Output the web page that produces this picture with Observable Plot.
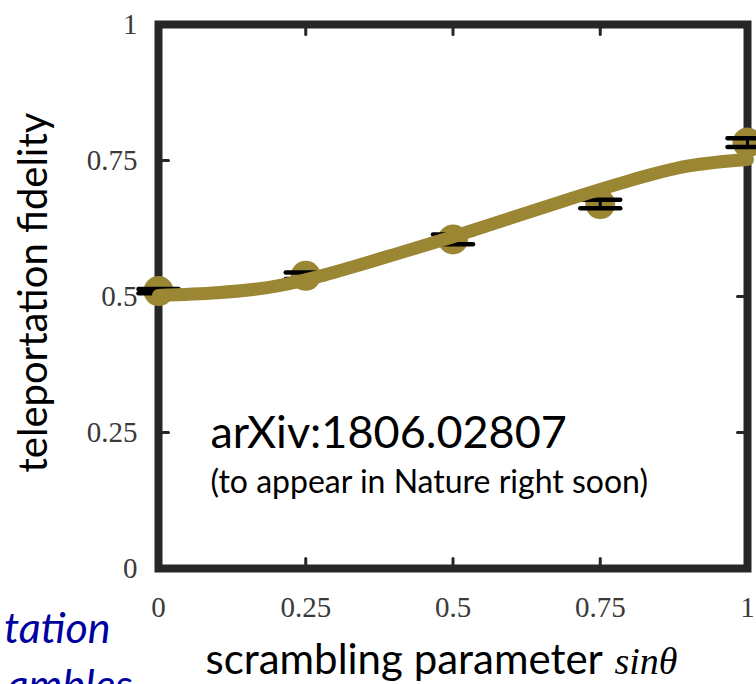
<!DOCTYPE html>
<html>
<head>
<meta charset="utf-8">
<script src="https://cdn.jsdelivr.net/npm/d3@7"></script>
<script src="https://cdn.jsdelivr.net/npm/@observablehq/plot@0.6"></script>
<style>
  html, body { margin: 0; padding: 0; background: #fff; overflow: hidden; }
  #chart { width: 756px; height: 684px; }
</style>
</head>
<body>
<div id="chart"></div>
<script>
// ---- data ----
const xTicks = [0, 0.25, 0.5, 0.75, 1];
const yTicks = [0, 0.25, 0.5, 0.75, 1];
const innerTicks = [0.25, 0.5, 0.75];

const pointX = [0, 0.25, 0.5, 0.75, 1];
const pointY = [0.51, 0.538, 0.605, 0.67, 0.783];
const pointErr = [0.004, 0.006, 0.009, 0.008, 0.008];

const curveX = [0, 0.1, 0.2, 0.3, 0.4, 0.5, 0.6, 0.7, 0.8, 0.9, 1];
const curveY = [0.502, 0.507, 0.519, 0.545, 0.577, 0.61, 0.645, 0.68, 0.713, 0.74, 0.752];

const yLabel = "teleportation fidelity";
const xLabelText = "scrambling parameter";
const xLabelMath = "sinθ";
const noteLines = ["arXiv:1806.02807", "(to appear in Nature right soon)"];
const sideLines = ["tation", "ambles"];

// ---- build tables ----
const points = pointX.map((x, i) => ({x, y: pointY[i], e: pointErr[i]}));
const curve = curveX.map((x, i) => ({x, y: curveY[i]}));

const gold = "#9b8733";
const frameColor = "#262626";
const sans = "Lato, 'Open Sans', sans-serif";
const serif = "'Liberation Serif', 'DejaVu Serif', serif";

// a straight segment of length l along the vector direction
const segment = {draw(context, l) { context.moveTo(0, 0); context.lineTo(0, -l); }};

const chart = Plot.plot({
  width: 756,
  height: 684,
  marginLeft: 158,
  marginRight: 9,
  marginTop: 24,
  marginBottom: 116,
  style: {background: "#fff"},
  x: {domain: [0, 1], axis: null},
  y: {domain: [0, 1], axis: null},
  marks: [
    Plot.frame({stroke: frameColor, strokeWidth: 8}),
    // inward tick marks on all sides
    Plot.vector(innerTicks, {y: d => d, frameAnchor: "left", length: 10, rotate: 90, anchor: "start", shape: segment, stroke: frameColor, strokeWidth: 3}),
    Plot.vector(innerTicks, {y: d => d, frameAnchor: "right", length: 10, rotate: -90, anchor: "start", shape: segment, stroke: frameColor, strokeWidth: 3}),
    Plot.vector(innerTicks, {x: d => d, frameAnchor: "bottom", length: 10, rotate: 0, anchor: "start", shape: segment, stroke: frameColor, strokeWidth: 3}),
    Plot.vector(innerTicks, {x: d => d, frameAnchor: "top", length: 10, rotate: 180, anchor: "start", shape: segment, stroke: frameColor, strokeWidth: 3}),
    // tick labels
    Plot.axisX({ticks: xTicks, label: null, tickSize: 0, tickPadding: 28, fontSize: 29, fontFamily: serif, fill: "#3a3a3a", tickFormat: d => String(d)}),
    Plot.axisY({ticks: yTicks, label: null, tickSize: 0, tickPadding: 21, fontSize: 29, fontFamily: serif, fill: "#3a3a3a", tickFormat: d => String(d)}),
    // data markers
    Plot.dot(points, {x: "x", y: "y", r: 15, fill: gold}),
    Plot.ruleX(points, {x: "x", y1: d => d.y - d.e, y2: d => d.y + d.e, stroke: "#000", strokeWidth: 3}),
    Plot.vector(points, {x: "x", y: d => d.y - d.e, length: 40, rotate: 90, anchor: "middle", shape: segment, stroke: "#000", strokeWidth: 4.5}),
    Plot.vector(points, {x: "x", y: d => d.y + d.e, length: 40, rotate: 90, anchor: "middle", shape: segment, stroke: "#000", strokeWidth: 4.5}),
    // fitted curve
    Plot.line(curve, {x: "x", y: "y", curve: "natural", stroke: gold, strokeWidth: 13}),
    // annotation
    Plot.text([noteLines[0]], {text: d => d, frameAnchor: "bottom-left", dx: 52, dy: -121, textAnchor: "start", lineAnchor: "bottom", fontSize: 45, fontFamily: sans, fill: "#000"}),
    Plot.text([noteLines[1]], {text: d => d, frameAnchor: "bottom-left", dx: 52, dy: -76, textAnchor: "start", lineAnchor: "bottom", fontSize: 32, fontFamily: sans, fill: "#000"}),
    // axis titles
    Plot.text([yLabel], {text: d => d, frameAnchor: "left", dx: -124, dy: -4, rotate: -90, textAnchor: "middle", lineAnchor: "middle", fontSize: 40, fontFamily: sans, fill: "#000"}),
    Plot.text([xLabelText], {text: d => d, frameAnchor: "bottom-left", dx: 47, dy: 105, textAnchor: "start", lineAnchor: "bottom", fontSize: 42, fontFamily: sans, fill: "#000"}),
    Plot.text([xLabelMath], {text: d => d, frameAnchor: "bottom-left", dx: 519, dy: 105, textAnchor: "end", lineAnchor: "bottom", fontSize: 38, fontFamily: serif, fontStyle: "italic", fill: "#000"}),
    // cropped slide text at the lower left
    Plot.text([sideLines[0]], {text: d => d, frameAnchor: "bottom-left", dx: -48, dy: 74, textAnchor: "end", lineAnchor: "bottom", fontSize: 43, fontFamily: sans, fontStyle: "italic", fill: "#0000a0"}),
    Plot.text([sideLines[1]], {text: d => d, frameAnchor: "bottom-left", dx: -26, dy: 131, textAnchor: "end", lineAnchor: "bottom", fontSize: 43, fontFamily: sans, fontStyle: "italic", fill: "#0000a0"})
  ]
});
document.getElementById("chart").appendChild(chart);
</script>
</body>
</html>
